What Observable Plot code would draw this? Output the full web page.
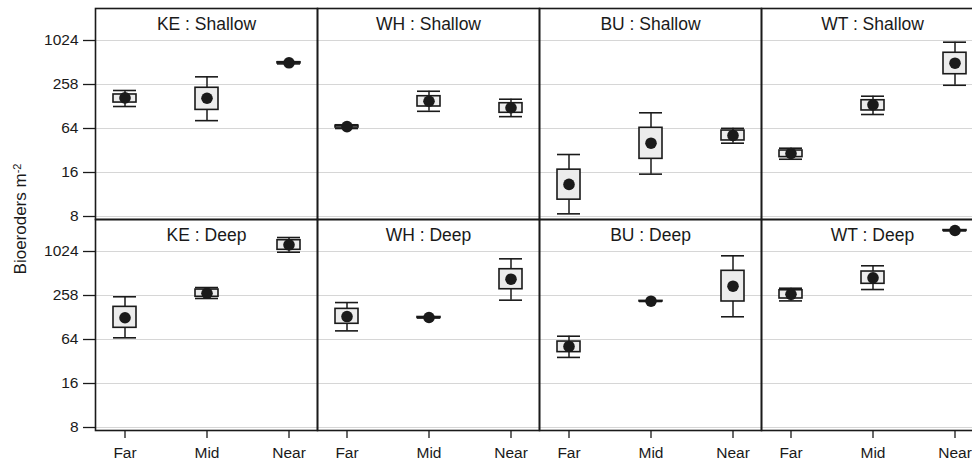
<!DOCTYPE html>
<html>
<head>
<meta charset="utf-8">
<script src="https://cdn.jsdelivr.net/npm/d3@7"></script>
<script src="https://cdn.jsdelivr.net/npm/@observablehq/plot@0.6"></script>
<style>
  html, body { margin: 0; padding: 0; overflow: hidden; background: #fff; }
  #chart { width: 972px; height: 463px; overflow: hidden; }
  #chart svg { max-width: none !important; }
</style>
</head>
<body>
<div id="chart"></div>
<script>
// ---- data ----
const sites = ["KE", "WH", "BU", "WT"];
const depths = ["Shallow", "Deep"];
const distances = ["Far", "Mid", "Near"];

// order: depth -> site -> distance
const means = [
  168, 166, 507,   68, 151, 123,   11.0, 40.3, 51.4,   29.1, 135, 501,
  127, 275, 1265,  132, 128, 428,  51.4, 214, 343,     266, 447, 1985
];
const boxLo = [
  145, 115, 498,   66, 128, 105,   6.8, 24.6, 43.9,    26, 113, 354,
  92.5, 246, 1080, 105, 126, 312,  43, 212, 212,       233, 370, 1960
];
const boxHi = [
  187, 231, 516,   70, 177, 142,   17.5, 65.4, 60,     32, 156, 696,
  179, 309, 1462,  168, 130, 586,  60, 216, 557,       302, 545, 2010
];
const whiskLo = [
  128, 82, 490,    64, 110, 93,    4.35, 15.2, 40.3,   24.3, 99.5, 250,
  67.5, 233, 1001, 84, 126, 221,   36.4, 212, 131,     216, 309, 1960
];
const whiskHi = [
  212, 326, 525,   72, 207, 161,   28.2, 105, 64.3,    34.4, 177, 971,
  246, 329, 1591,  205, 130, 813,  71, 216, 894,       322, 653, 2010
];

// y tick positions and their printed labels
const yTicks = [4, 16, 64, 256, 1024];
const yTickLabels = ["8", "16", "64", "258", "1024"];

// ---- build table ----
const rows = [];
let i = 0;
for (const depth of depths) for (const site of sites) for (const distance of distances) {
  rows.push({site, depth, distance, mean: means[i], bl: boxLo[i], bh: boxHi[i], wl: whiskLo[i], wh: whiskHi[i]});
  i++;
}
const panels = [];
for (const depth of depths) for (const site of sites) panels.push({site, depth});

const ink = "#1a1a1a";

const svg = Plot.plot({
  width: 983,
  height: 463,
  marginLeft: 95,
  marginRight: 0,
  marginTop: 8,
  marginBottom: 33,
  style: {fontFamily: "'Liberation Sans', Arial, sans-serif", fontSize: "15.5px", color: ink, background: "#fff", maxWidth: "none"},
  fx: {domain: sites, axis: null, padding: 0},
  fy: {domain: depths, axis: null, padding: 0},
  x: {type: "band", domain: distances, paddingInner: 0.72, paddingOuter: 0.2},
  y: {type: "log", base: 2, domain: [3.64, 2807]},
  marks: [
    Plot.gridY(yTicks, {stroke: "#d6d6d6", strokeOpacity: 1, strokeWidth: 1.2}),
    Plot.ruleX(rows, {fx: "site", fy: "depth", x: "distance", y1: "wl", y2: "wh", stroke: ink, strokeWidth: 1.5}),
    Plot.barY(rows, {fx: "site", fy: "depth", x: "distance", y1: "bl", y2: "bh", fill: "#ececec", stroke: ink, strokeWidth: 1.6}),
    Plot.tickY(rows, {fx: "site", fy: "depth", x: "distance", y: "wl", stroke: ink, strokeWidth: 1.6}),
    Plot.tickY(rows, {fx: "site", fy: "depth", x: "distance", y: "wh", stroke: ink, strokeWidth: 1.6}),
    Plot.dot(rows, {fx: "site", fy: "depth", x: "distance", y: "mean", r: 5.8, fill: ink, stroke: "none"}),
    Plot.text(panels, {fx: "site", fy: "depth", text: d => `${d.site} : ${d.depth}`, frameAnchor: "top", dy: 16, lineAnchor: "middle", fontSize: 17.5, fill: ink}),
    Plot.axisY({ticks: yTicks, tickFormat: d => yTickLabels[yTicks.indexOf(d)], tickSize: 12, tickPadding: 5, label: null, stroke: ink, strokeWidth: 1.3, fontSize: 15.5}),
    Plot.axisX({tickSize: 8, tickPadding: 8, label: null, stroke: ink, strokeWidth: 1.3, fontSize: 15.5}),
    Plot.frame({stroke: ink, strokeWidth: 1.6})
  ]
});

// y-axis title with superscript
const s = d3.select(svg);
const t = s.append("text")
  .attr("transform", "translate(26,219) rotate(-90)")
  .attr("text-anchor", "middle")
  .attr("fill", ink)
  .style("font-size", "17px")
  .style("font-family", "'Liberation Sans', Arial, sans-serif");
t.append("tspan").text("Bioeroders m");
t.append("tspan").attr("dy", "-0.45em").style("font-size", "11px").text("-2");

document.getElementById("chart").appendChild(svg);
</script>
</body>
</html>
